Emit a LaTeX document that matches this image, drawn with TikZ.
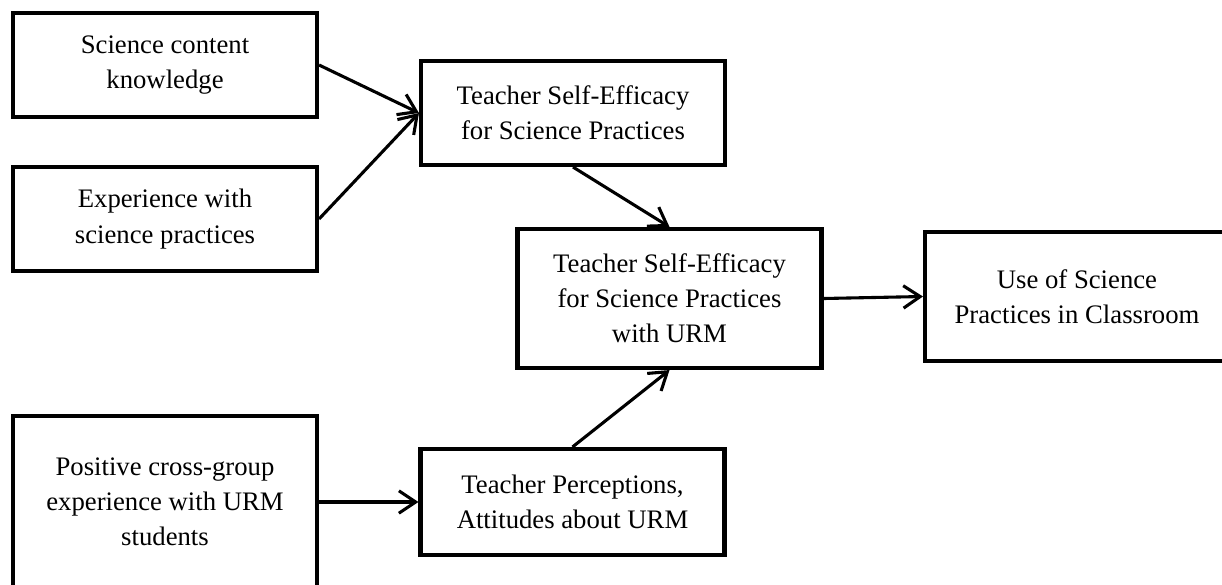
\documentclass[tikz,border=0pt]{standalone}
\usepackage{fontspec}
\setmainfont{Liberation Serif}
\usetikzlibrary{arrows.meta,positioning}
\tikzset{
  box/.style={draw,line width=2.9pt,align=center,font=\fontsize{19}{25}\selectfont,minimum width=7.6cm,minimum height=2.6cm,inner sep=4pt},
  arr/.style={-{Straight Barb[length=4.2mm,width=5.6mm]},line width=2.2pt},
}
\begin{document}
\begin{tikzpicture}
\useasboundingbox (0,0) rectangle (30.55,-14.6);
\node[box] (know) at (4.125,-1.625) {Science content\\knowledge};
\node[box] (expr) at (4.125,-5.475) {Experience with\\science practices};
\node[box] (tse) at (14.325,-2.825) {Teacher Self-Efficacy\\for Science Practices};
\node[box,minimum height=3.475cm] (tseurm) at (16.7375,-7.4625) {Teacher Self-Efficacy\\for Science Practices\\with URM};
\node[box,minimum height=3.225cm] (use) at (26.925,-7.4125) {Use of Science\\Practices in Classroom};
\node[box,minimum height=4.3cm] (cross) at (4.125,-12.55) {Positive cross-group\\experience with URM\\students};
\node[box,minimum height=2.65cm] (perc) at (14.3125,-12.55) {Teacher Perceptions,\\Attitudes about URM};
\draw[arr] (know.east)--(tse.west);
\draw[arr] (expr.east)--(tse.west);
\draw[arr] (tse.south)--(tseurm.north);
\draw[arr] (tseurm.east)--(use.west);
\draw[arr] (cross.east)--(perc.west);
\draw[arr] (perc.north)--(tseurm.south);
\end{tikzpicture}
\end{document}
